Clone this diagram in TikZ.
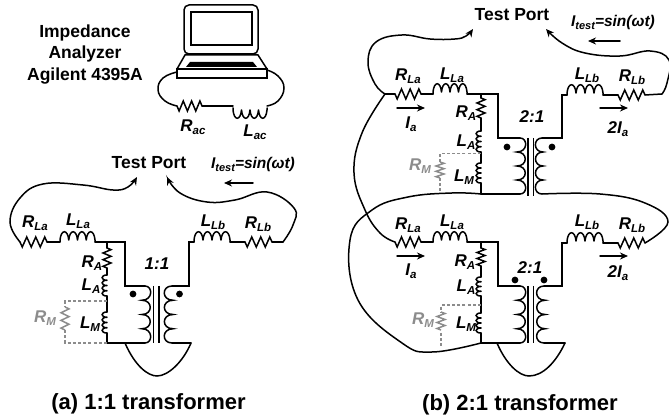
\documentclass[tikz,border=0pt]{standalone}
\usepackage{fontspec}
\setmainfont{Liberation Sans}
\usetikzlibrary{arrows.meta}
\definecolor{grayc}{HTML}{8C8C8C}
\tikzset{
 wire/.style={line width=1.5pt,line cap=round,line join=miter,black},
 gwire/.style={line width=1.5pt,color=grayc,line join=miter},
 gdash/.style={line width=1.2pt,color=grayc,dash pattern=on 3pt off 2.2pt},
 wirehead/.style={wire,-{Stealth[length=8pt,width=7pt]}},
 titletxt/.style={font=\fontsize{17.5}{21}\selectfont\bfseries,inner sep=0pt},
 lbl/.style={font=\fontsize{17}{20}\selectfont\bfseries\itshape,inner sep=0pt},
 captxt/.style={font=\fontsize{22}{24}\selectfont\bfseries,inner sep=0pt},
}
\newcommand{\HRes}[3]{\draw[wire] (#1,#3) foreach \t/\s in {1/1,3/-1,5/1,7/-1,9/1,11/-1} { -- ({#1+(#2-#1)*\t/12},{#3+\s*5}) } -- (#2,#3);}
\newcommand{\VRes}[4][wire]{\draw[#1] (#2,#3) foreach \t/\s in {1/1,3/-1,5/1,7/-1,9/1,11/-1} { -- ({#2+\s*4},{#3+(#4-#3)*\t/12}) } -- (#2,#4);}
\newcommand{\HInd}[4]{\draw[wire] foreach \i in {0,1,2,3} { ({#1+(#2-#1)*\i*0.25},{#3-#4*2}) .. controls ({#1+(#2-#1)*\i*0.25+1},{#3-#4*13}) and ({#1+(#2-#1)*(\i+1)*0.25-1},{#3-#4*13}) .. ({#1+(#2-#1)*(\i+1)*0.25},{#3-#4*2}) } (#1,#3) -- (#1,{#3-#4*2}) (#2,#3) -- (#2,{#3-#4*2});}
\newcommand{\VInd}[3]{\draw[wire] foreach \i in {0,1,2,3} { (#1,{#2+(#3-#2)*\i*0.25}) .. controls ({#1-6.5},{#2+(#3-#2)*\i*0.25}) and ({#1-6.5},{#2+(#3-#2)*(\i+1)*0.25}) .. (#1,{#2+(#3-#2)*(\i+1)*0.25}) };}
% winding with four lobes: #1 wire x, #2 cusp x, #3 control x, #4 top y, #5 bottom y
\newcommand{\Wind}[5]{\draw[wire] (#1,#4) .. controls (#3,#4) and (#3,{#4+(#5-#4)*0.25}) .. (#2,{#4+(#5-#4)*0.25})
 .. controls (#3,{#4+(#5-#4)*0.25}) and (#3,{#4+(#5-#4)*0.5}) .. (#2,{#4+(#5-#4)*0.5})
 .. controls (#3,{#4+(#5-#4)*0.5}) and (#3,{#4+(#5-#4)*0.75}) .. (#2,{#4+(#5-#4)*0.75})
 .. controls (#3,{#4+(#5-#4)*0.75}) and (#3,#5) .. (#1,#5);}
\newcommand{\Lab}[6][black]{\node[lbl,text=#1] (#2) at (#3,#4) {#5\raisebox{-3pt}{\fontsize{11.5}{12}\selectfont #6}};}
\newcommand{\Core}[3]{\draw[line width=1.4pt] (#1,#2) -- (#1,#3) ({#1+5.5},#2) -- ({#1+5.5},#3);}
\newcommand{\Dot}[2]{\fill (#1,#2) circle (3.4);}
\begin{document}
\begin{tikzpicture}[x=1pt,y=-1pt]
\useasboundingbox (0,0) rectangle (669,419);
% ---- analyzer
\node[titletxt,align=center] (az1) at (85,33) {Impedance};
\node[titletxt] (az2) at (85,54) {Analyzer};
\node[titletxt] (az3) at (85,76) {Agilent 4395A};
\draw[wire,rounded corners=5pt] (184,54) -- (184,5) -- (258,5) -- (258,54) -- cycle;
\draw[wire] (191,12) rectangle (252,45);
\draw[wire] (177,69) -- (185,55) -- (258,55) -- (267,69);
\draw[wire] (177,69) rectangle (267,78);
\fill (190,62) -- (253,62) -- (257,67) -- (186,67) -- cycle;
\coordinate (lapL) at (177,72); \coordinate (lapR) at (267,70);
\coordinate (racL) at (177,106); \coordinate (racR) at (202,106);
\coordinate (lacL) at (233,106); \coordinate (lacR) at (267,106);
\draw[wire] plot[smooth,tension=0.75] coordinates {(lapL) (163,78) (158,90) (165,101) (racL)};
\draw[wire] plot[smooth,tension=0.75] coordinates {(lapR) (278,76) (284,88) (278,101) (lacR)};
\HRes{177}{202}{106}
\draw[wire] (racR) -- (lacL);
\HInd{233}{267}{108}{-1}
\Lab{rac}{193}{127}{R}{ac}
\Lab{lac}{255}{132}{L}{ac}
% ---- panel a
\node[titletxt] (tpa) at (149,163) {Test Port};
\node[lbl,font=\fontsize{15.5}{18}\selectfont\bfseries\itshape] (ita) at (253,164) {I\raisebox{-3pt}{\fontsize{11}{12}\selectfont test}=sin(ωt)};
\coordinate (arA1) at (253,183); \coordinate (arA2) at (224,183);
\draw[wirehead] (arA1) -- (arA2);
\coordinate (a1) at (20,242); \coordinate (a2) at (47,242); \coordinate (a3) at (60,242); \coordinate (a4) at (95,242);
\coordinate (a5) at (125,242); \coordinate (a6) at (125,286); \coordinate (a7) at (145,286); \coordinate (a8) at (145,343);
\coordinate (a9) at (107,242); \coordinate (a10) at (107,343);
\coordinate (a11) at (172,286); \coordinate (a12) at (189,286); \coordinate (a13) at (189,242); \coordinate (a14) at (194,242);
\coordinate (a15) at (230,242); \coordinate (a16) at (245,242); \coordinate (a17) at (272,242); \coordinate (a18) at (283,242);
\coordinate (a19) at (172,343); \coordinate (a20) at (191,343); \coordinate (a21) at (125,343);
\coordinate (tipa1) at (137,177); \coordinate (tipa2) at (167,177);
\draw[wirehead] plot[smooth,tension=0.7] coordinates {(a1) (10,222) (20,198) (43,184) (83,185) (113,190) (128,187) (tipa1)};
\draw[wirehead] plot[smooth,tension=0.7] coordinates {(a18) (293,225) (294,208) (267,192) (235,200) (207,202) (180,193) (tipa2)};
\HRes{20}{47}{242}
\draw[wire] (a2) -- (a3);
\HInd{60}{95}{242}{1}
\draw[wire] (a4) -- (a5) -- (a6) -- (a7);
\draw[wire] (a10) -- (a8);
\Wind{145}{142}{153}{286}{343}
\Core{153.5}{286}{343}
\Wind{172}{173}{161.5}{286}{343}
\draw[wire] (a11) -- (a12) -- (a13) -- (a14);
\HInd{194}{230}{242}{1}
\draw[wire] (a15) -- (a16);
\HRes{245}{272}{242}
\draw[wire] (a17) -- (a18);
\draw[wire] (a19) -- (a20);
\draw[wire] (a21) .. controls (135,366) and (148,376) .. (157,376) .. controls (168,376) and (183,362) .. (a20);
\draw[wire] (a9) -- (107,248);
\VRes{107}{248}{268}
\draw[wire] (107,268) -- (107,275);
\VInd{107}{275}{296}
\draw[wire] (107,296) -- (107,312);
\VInd{107}{312}{333}
\draw[wire] (107,333) -- (a10);
\draw[gdash] (107,301) -- (65,301) -- (65,307);
\VRes[gwire]{65}{307}{330}
\draw[gdash] (65,330) -- (65,343) -- (a10);
\Dot{133}{294}\Dot{179.5}{294}
\Lab{arla}{35}{223}{R}{La}
\Lab{alla}{78}{221}{L}{La}
\Lab{allb}{213}{222}{L}{Lb}
\Lab{arlb}{258}{224}{R}{Lb}
\Lab{ara}{92}{263}{R}{A}
\Lab{ala}{91}{286}{L}{A}
\Lab{alm}{90}{324}{L}{M}
\Lab[grayc]{arm}{45}{318}{R}{M}
\node[lbl] (ratioa) at (157,264) {1:1};
\node[captxt] (capa) at (148.5,404) {(a) 1:1 transformer};
% ---- panel b top
\node[titletxt] (tpb) at (512,15) {Test Port};
\node[lbl,font=\fontsize{15.5}{18}\selectfont\bfseries\itshape] (itb) at (613,22) {I\raisebox{-3pt}{\fontsize{11}{12}\selectfont test}=sin(ωt)};
\coordinate (arB1) at (620,41); \coordinate (arB2) at (588,41);
\draw[wirehead] (arB1) -- (arB2);
\coordinate (b0) at (385,94); \coordinate (b1) at (395,94); \coordinate (b2) at (421,94);
\coordinate (b3) at (433,94); \coordinate (b4) at (467,94); \coordinate (b5) at (498,94);
\coordinate (b6) at (498,138); \coordinate (b7) at (520,138); \coordinate (b8) at (481,94); \coordinate (b9) at (481,194); \coordinate (b10) at (520,194);
\coordinate (b11) at (542,138); \coordinate (b12) at (562,138); \coordinate (b13) at (562,95); \coordinate (b14) at (567,95);
\coordinate (b15) at (603,95); \coordinate (b16) at (618,95); \coordinate (b17) at (645,95); \coordinate (b18) at (662,94); \coordinate (b19) at (542,194);
\coordinate (tipb1) at (473,29); \coordinate (tipb2) at (546,29);
\draw[wire] (b0) -- (b1);
\HRes{395}{421}{94}
\draw[wire] (b2) -- (b3);
\HInd{433}{467}{94}{1}
\draw[wire] (b4) -- (b5) -- (b6) -- (b7);
\draw[wire] (b9) -- (b10);
\Wind{520}{517}{528}{138}{194}
\Core{528}{138}{196}
\Wind{542}{543}{533}{138}{194}
\draw[wire] (b11) -- (b12) -- (b13) -- (b14);
\HInd{567}{603}{95}{1}
\draw[wire] (b15) -- (b16);
\HRes{618}{645}{95}
\draw[wire] (b17) -- (b18);
\draw[wire] (b8) -- (481,98);
\VRes{481}{98}{118}
\draw[wire] (481,118) -- (481,131);
\VInd{481}{131}{152}
\draw[wire] (481,152) -- (481,163);
\VInd{481}{163}{183}
\draw[wire] (481,183) -- (b9);
\draw[gdash] (481,153.5) -- (440,153.5) -- (440,162);
\VRes[gwire]{440}{162}{178}
\draw[gdash] (440,178) -- (440,192);
\Dot{507}{147}\Dot{552}{147}
\draw[wirehead] plot[smooth,tension=0.7] coordinates {(b0) (375,84) (368,62) (376,42) (402,35) (430,39) (455,39) (466,36) (tipb1)};
\draw[wirehead] plot[smooth,tension=0.7] coordinates {(b18) (667,83) (669,60) (650,51) (620,56) (585,53) (562,43) (tipb2)};
\Lab{brla}{408}{76}{R}{La}
\Lab{blla}{452}{75}{L}{La}
\Lab{bllb}{587}{75}{L}{Lb}
\Lab{brlb}{632}{77}{R}{Lb}
\Lab{bra}{466}{113}{R}{A}
\Lab{bla}{466}{142}{L}{A}
\Lab{blm}{464}{177}{L}{M}
\Lab[grayc]{brm}{420}{166}{R}{M}
\node[lbl] (ratb1) at (532,117) {2:1};
\coordinate (ia1s) at (397,108); \coordinate (ia1e) at (425,108);
\draw[wirehead] (ia1s) -- (ia1e);
\Lab{ia1}{411}{124}{I}{a}
\coordinate (ib1s) at (600,108); \coordinate (ib1e) at (628,108);
\draw[wirehead] (ib1s) -- (ib1e);
\Lab{ib1}{618}{129}{2I}{a}
% ---- panel b bottom
\coordinate (c1) at (395,242); \coordinate (c2) at (421,242); \coordinate (c3) at (433,242); \coordinate (c4) at (467,242);
\coordinate (c5) at (498,242); \coordinate (c6) at (498,286); \coordinate (c7) at (520,286); \coordinate (c8) at (481,242); \coordinate (c9) at (481,343); \coordinate (c10) at (520,343);
\coordinate (c11) at (544,286); \coordinate (c12) at (562,286); \coordinate (c13) at (562,243); \coordinate (c14) at (567,243);
\coordinate (c15) at (603,243); \coordinate (c16) at (618,243); \coordinate (c17) at (645,243); \coordinate (c19) at (544,343); \coordinate (c20) at (565,343); \coordinate (c21) at (497,343);
\HRes{395}{421}{242}
\draw[wire] (c2) -- (c3);
\HInd{433}{467}{242}{1}
\draw[wire] (c4) -- (c5) -- (c6) -- (c7);
\draw[wire] (c9) -- (c10);
\Wind{520}{517}{528}{286}{343}
\Core{528}{286}{343}
\Wind{544}{545}{534}{286}{343}
\draw[wire] (c11) -- (c12) -- (c13) -- (c14);
\HInd{567}{603}{243}{1}
\draw[wire] (c15) -- (c16);
\HRes{618}{645}{243}
\draw[wire] (c19) -- (c20);
\draw[wire] (c21) .. controls (506,364) and (519,376) .. (529,376) .. controls (543,376) and (556,362) .. (c20);
\draw[wire] (c8) -- (481,248);
\VRes{481}{248}{266}
\draw[wire] (481,266) -- (481,277);
\VInd{481}{277}{296}
\draw[wire] (481,296) -- (481,313);
\VInd{481}{313}{333}
\draw[wire] (481,333) -- (c9);
\draw[gdash] (481,305) -- (441,305) -- (441,312);
\VRes[gwire]{441}{312}{330}
\draw[gdash] (441,333) -- (441,347);
\Dot{515}{280}\Dot{544}{280}
\Lab{crla}{408}{225}{R}{La}
\Lab{clla}{452}{222}{L}{La}
\Lab{cllb}{587}{222}{L}{Lb}
\Lab{crlb}{632}{225}{R}{Lb}
\Lab{cra}{465}{262}{R}{A}
\Lab{cla}{466}{287}{L}{A}
\Lab{clm}{466}{324}{L}{M}
\Lab[grayc]{crm}{423}{320}{R}{M}
\node[lbl] (ratb2) at (530,268) {2:1};
\coordinate (ia2s) at (397,256); \coordinate (ia2e) at (425,256);
\draw[wirehead] (ia2s) -- (ia2e);
\Lab{ia2}{411}{271}{I}{a}
\coordinate (ib2s) at (600,256); \coordinate (ib2e) at (628,256);
\draw[wirehead] (ib2s) -- (ib2e);
\Lab{ib2}{618}{273}{2I}{a}
% ---- cross loops
\draw[wire] plot[smooth,tension=0.7] coordinates {(b0) (362,133) (354,173) (365,210) (380,233) (c1)};
\draw[wire] plot[smooth,tension=0.7] coordinates {(b9) (452,193) (408,197) (372,210) (350,240) (358,300) (402,343) (432,352) (c9)};
\draw[wire] plot[smooth,tension=0.7] coordinates {(b19) (600,194) (645,203) (668,222) (c17)};
\node[captxt] (capb) at (520,405) {(b) 2:1 transformer};
\end{tikzpicture}
\end{document}
